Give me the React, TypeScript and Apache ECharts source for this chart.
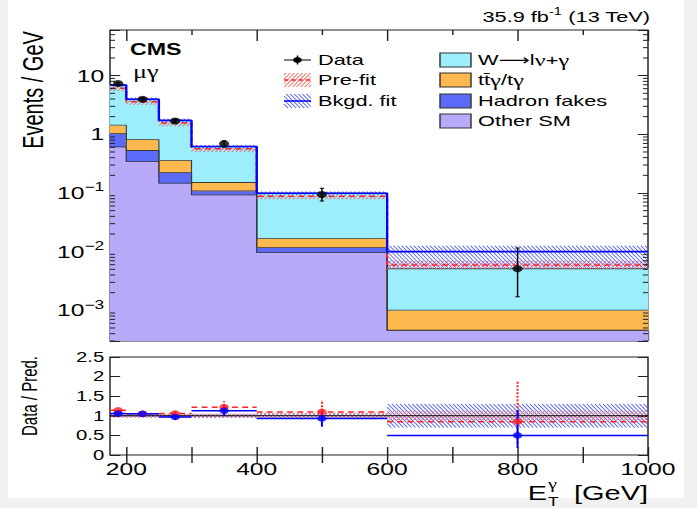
import React, { useEffect, useRef } from 'react';
import * as echarts from 'echarts';

// Chart is laid out in an "internal" frame and stretched horizontally via CSS
const W_INT = 481;
const SX = 697 / W_INT;
const X = (sx: number) => sx / SX;
const F = 'Liberation Sans, Arial, Helvetica, sans-serif';
const FG = 'Liberation Serif, Times New Roman, serif';

const X_MIN = 175;
const X_MAX = 1000;
const Y_MIN = 3e-4;
const Y_MAX = 60;

// ---------------- data ----------------
const binEdges = [175, 200, 250, 300, 400, 600, 1000];
const binCenters = [187.5, 225, 275, 350, 500, 800];

const otherSM = [0.61, 0.345, 0.147, 0.093, 0.0096, 0.00045];
const hadronFakes = [0.42, 0.185, 0.077, 0.016, 0.0021, 0.00001];
const ttGamma = [0.4, 0.28, 0.136, 0.042, 0.0052, 0.00055];
const wGamma = [5.45, 3.16, 1.37, 0.47, 0.082, 0.0041];

const dataY = [7.36, 3.97, 1.69, 0.69, 0.094, 0.0051];
const dataLo = [7.05, 3.75, 1.57, 0.61, 0.073, 0.0017];
const dataHi = [7.68, 4.2, 1.82, 0.78, 0.12, 0.0115];

const prefit = [6.1, 3.6, 1.56, 0.57, 0.088, 0.0059];
const prefitLo = [5.4, 3.15, 1.37, 0.5, 0.078, 0.0051];
const prefitHi = [6.4, 3.75, 1.62, 0.59, 0.092, 0.007];

const postfit = [6.9, 3.97, 1.73, 0.62, 0.099, 0.01];
const postfitLo = [6.45, 3.7, 1.61, 0.58, 0.092, 0.0053];
const postfitHi = [7.35, 4.25, 1.85, 0.66, 0.106, 0.0126];

// ratio panel
const preRatio = [1.14, 1.05, 1.06, 1.22, 1.1, 0.85];
const preRatioLo = [1.09, 1.02, 0.98, 1.08, 0.86, 0.3];
const preRatioHi = [1.19, 1.08, 1.14, 1.38, 1.4, 1.88];
const postRatio = [1.06, 1.05, 0.97, 1.13, 0.93, 0.5];
const postRatioLo = [1.02, 1.02, 0.89, 1.0, 0.72, 0.18];
const postRatioHi = [1.1, 1.08, 1.05, 1.26, 1.12, 1.15];
const preUncR = [0.05, 0.05, 0.05, 0.06, 0.08, 0.12];
const postUncR = [0.04, 0.04, 0.04, 0.05, 0.06, 0.3];

// ticks
const xMajorTicks = [200, 400, 600, 800, 1000];
const xMinorTicks = [300, 500, 700, 900];
const xRatioTicks = [200, 300, 400, 500, 600, 700, 800, 900, 1000];
const xLabels = [200, 400, 600, 800, 1000];
const logMinorTicks: number[] = [];
for (let e = -4; e <= 1; e++) {
  for (let m = 2; m <= 9; m++) {
    const v = m * Math.pow(10, e);
    if (v > Y_MIN && v < Y_MAX) logMinorTicks.push(v);
  }
}

// ---------------- styles ----------------
const C_W = '#9ceefc';
const C_TT = '#fdb94e';
const C_HAD = '#5b6bf7';
const C_OTHER = '#b9aaf9';
const BLUE = '#0000ff';
const RED = '#ff2222';
const HATCH_BLUE = '#5560f2';
const HATCH_RED = '#f06a6a';
const FRAME = '#222';
const OUTLINE = '#3a3a3a';

function hatch(ax0: number, ay0: number, ax1: number, ay1: number, spacing: number, k: number, dir: number, stroke: string, lw: number) {
  const x0 = Math.min(ax0, ax1), x1 = Math.max(ax0, ax1);
  const y0 = Math.min(ay0, ay1), y1 = Math.max(ay0, ay1);
  const out: any[] = [];
  const h = y1 - y0;
  if (h <= 0 || x1 - x0 <= 0) return out;
  const dx = h / k;
  for (let c = x0 - dx; c <= x1 + dx; c += spacing) {
    let tA, tB;
    if (dir === 1) { tA = (x0 - c) * k; tB = (x1 - c) * k; }
    else { tA = (c - x1) * k; tB = (c - x0) * k; }
    const t0 = Math.max(0, tA), t1 = Math.min(h, tB);
    if (t1 <= t0) continue;
    out.push({
      type: 'line', silent: true,
      shape: { x1: c + (dir * t0) / k, y1: y0 + t0, x2: c + (dir * t1) / k, y2: y0 + t1 },
      style: { stroke, lineWidth: lw },
    });
  }
  return out;
}

const stepPoints = (vals: number[]) => {
  const pts: number[][] = [];
  vals.forEach((v, i) => { pts.push([binEdges[i], v], [binEdges[i + 1], v]); });
  return pts;
};

const components = [otherSM, hadronFakes, ttGamma, wGamma];
const componentColors = [C_OTHER, C_HAD, C_TT, C_W];
const cumulative = components.map((_, k) =>
  binCenters.map((__, i) => components.slice(0, k + 1).reduce((s, arr) => s + arr[i], 0))
);

function xAx(gridIndex: number, position: string, ticks: number[], len: number, labels?: number[]) {
  return {
    type: 'value', gridIndex, position, min: X_MIN, max: X_MAX,
    axisLine: { show: false },
    axisTick: { show: true, inside: true, length: len, customValues: ticks, lineStyle: { color: FRAME, width: 1 } },
    axisLabel: labels
      ? { show: true, customValues: labels, fontSize: 17, fontFamily: F, color: '#000', margin: 5, formatter: (v: number) => String(v) }
      : { show: false },
    splitLine: { show: false },
  };
}

const logFormatter = (v: number) => {
  const l = Math.log10(v);
  const r = Math.round(l);
  if (Math.abs(l - r) > 1e-6) return '';
  if (r === 0) return '1';
  if (r === 1) return '10';
  return '10{sup|\u2212' + -r + '}';
};

const textEl = (x: number, y: number, text: string, extra: any = {}, rot = 0) => ({
  type: 'text', x, y, rotation: rot, silent: true,
  style: { text, fontSize: 15, fontFamily: F, fill: '#000', textAlign: 'left', textVerticalAlign: 'middle', ...extra },
});

function buildOption() {
  const graphics: any[] = [];
  const greekRich = {
    g: { fontSize: 17, fontFamily: FG, fill: '#000' },
    a: { fontSize: 15, fontFamily: 'DejaVu Sans, sans-serif', fill: '#000' },
  };
  // lumi label
  graphics.push(textEl(X(650), 17, '35.9 fb{sup|-1} (13 TeV)', {
    textAlign: 'right', lineHeight: 20,
    rich: { sup: { fontSize: 10, fontFamily: F, verticalAlign: 'top', lineHeight: 11, fill: '#000' } },
  }));
  graphics.push(textEl(X(130), 49, 'CMS', { fontSize: 16, fontWeight: 'bold' }));
  graphics.push(textEl(X(133), 72, '\u03bc\u03b3', { fontSize: 18, fontFamily: FG }));
  // axis titles
  graphics.push(textEl(X(33), 90, 'Events / GeV', { fontSize: 20, textAlign: 'center' }, Math.PI / 2));
  graphics.push(textEl(X(29), 396, 'Data / Pred.', { fontSize: 15, textAlign: 'center' }, Math.PI / 2));
  graphics.push(textEl(X(648), 493, '[GeV]', { fontSize: 20, textAlign: 'right' }));
  graphics.push(textEl(X(547), 493, 'E', { fontSize: 20, textAlign: 'right' }));
  graphics.push(textEl(X(548), 484, '\u03b3', { fontSize: 14, fontFamily: FG }));
  graphics.push(textEl(X(548), 502, 'T', { fontSize: 12 }));

  // legend column 1
  const lx0 = X(284), lx1 = X(311), lxc = X(297.5);
  graphics.push({ type: 'line', silent: true, shape: { x1: lx0, y1: 60, x2: lx1, y2: 60 }, style: { stroke: '#000', lineWidth: 1 } });
  graphics.push({ type: 'line', silent: true, shape: { x1: lxc, y1: 55.5, x2: lxc, y2: 64.5 }, style: { stroke: '#000', lineWidth: 1 } });
  graphics.push({ type: 'circle', silent: true, shape: { cx: lxc, cy: 60, r: 3 }, style: { fill: '#000' } });
  hatch(lx0, 73, lx1, 87, 2.8, SX, -1, HATCH_RED, 0.7).forEach((g) => graphics.push(g));
  graphics.push({ type: 'line', silent: true, shape: { x1: lx0, y1: 80, x2: lx1, y2: 80 }, style: { stroke: RED, lineWidth: 1.5, lineDash: [3, 2] } });
  hatch(lx0, 94, lx1, 108, 2.8, SX, 1, HATCH_BLUE, 0.7).forEach((g) => graphics.push(g));
  graphics.push({ type: 'line', silent: true, shape: { x1: lx0, y1: 101, x2: lx1, y2: 101 }, style: { stroke: BLUE, lineWidth: 1.5 } });
  const leftLabels = ['Data', 'Pre-fit', 'Bkgd. fit'];
  const leftY = [60, 80, 101];
  leftLabels.forEach((t, i) => graphics.push(textEl(X(318), leftY[i], t)));
  // legend column 2
  const rightLabels = ['W{a|\u27f6}l{g|\u03bd}+{g|\u03b3}', 'tt\u0304{g|\u03b3}/t{g|\u03b3}', 'Hadron fakes', 'Other SM'];
  const rightY = [60, 80, 101, 121];
  rightLabels.forEach((t, i) => {
    graphics.push({ type: 'rect', silent: true, shape: { x: X(440), y: rightY[i] - 7, width: X(471) - X(440), height: 14 }, style: { fill: componentColors[[3, 2, 1, 0][i]], stroke: '#333', lineWidth: 1 } });
    graphics.push(textEl(X(478), rightY[i], t, { rich: greekRich }));
  });

  const gridLeft = X(110);
  const gridWidth = X(648) - X(110);

  const outlineSeries = cumulative.map((cum, k) => ({
    type: 'line', name: 'outline' + k, xAxisIndex: 0, yAxisIndex: 0, z: 1.5, silent: true,
    data: stepPoints(cum), symbol: 'none',
    lineStyle: { color: OUTLINE, width: 0.8 },
  }));

  return {
    animation: false,
    backgroundColor: 'transparent',
    graphic: { elements: graphics },
    grid: [
      { left: gridLeft, top: 30, width: gridWidth, height: 311, show: true, borderColor: FRAME, borderWidth: 1, backgroundColor: 'transparent', outerBoundsMode: 'none', containLabel: false },
      { left: gridLeft, top: 357, width: gridWidth, height: 98, show: true, borderColor: FRAME, borderWidth: 1, backgroundColor: 'transparent', outerBoundsMode: 'none', containLabel: false },
    ],
    xAxis: [
      xAx(0, 'bottom', xMajorTicks, 11),
      xAx(0, 'bottom', xMinorTicks, 5),
      xAx(0, 'top', xMajorTicks, 11),
      xAx(0, 'top', xMinorTicks, 5),
      xAx(1, 'bottom', xRatioTicks, 8, xLabels),
      xAx(1, 'top', xRatioTicks, 8),
    ],
    yAxis: [
      {
        type: 'log', logBase: 10, gridIndex: 0, position: 'left', min: Y_MIN, max: Y_MAX,
        axisLine: { show: false },
        axisTick: { show: true, inside: true, length: 7, lineStyle: { color: FRAME, width: 1 } },
        axisLabel: {
          show: true, margin: 4, fontSize: 17, fontFamily: F, color: '#000', lineHeight: 24,
          formatter: logFormatter,
          rich: { sup: { fontSize: 12, fontFamily: F, color: '#000', verticalAlign: 'top', lineHeight: 12 } },
        },
        splitLine: { show: false },
      },
      {
        type: 'log', logBase: 10, gridIndex: 0, position: 'right', min: Y_MIN, max: Y_MAX,
        axisLine: { show: false },
        axisTick: { show: true, inside: true, length: 7, lineStyle: { color: FRAME, width: 1 } },
        axisLabel: { show: false }, splitLine: { show: false },
      },
      {
        type: 'value', gridIndex: 1, position: 'left', min: 0, max: 2.5, interval: 0.5,
        axisLine: { show: false },
        axisTick: { show: true, inside: true, length: 7, lineStyle: { color: FRAME, width: 1 } },
        axisLabel: { show: true, margin: 4, fontSize: 14, fontFamily: F, color: '#000' },
        splitLine: { show: false },
      },
      {
        type: 'value', gridIndex: 1, position: 'right', min: 0, max: 2.5, interval: 0.5,
        axisLine: { show: false },
        axisTick: { show: true, inside: true, length: 7, lineStyle: { color: FRAME, width: 1 } },
        axisLabel: { show: false }, splitLine: { show: false },
      },
    ],
    series: [
      // stacked histogram fills
      {
        type: 'custom', name: 'stack', xAxisIndex: 0, yAxisIndex: 0, z: 1, clip: true, silent: true,
        data: binCenters.map((c, i) => [binEdges[i], binEdges[i + 1], cumulative[3][i], i]),
        encode: { x: [0, 1], y: 2 },
        renderItem: (params: any, api: any) => {
          const i = api.value(3);
          const x0 = binEdges[i], x1 = binEdges[i + 1];
          const children: any[] = [];
          let lower = Y_MIN;
          cumulative.forEach((cum, k) => {
            const pTop = api.coord([x0, cum[i]]);
            const pBot = api.coord([x1, lower]);
            children.push({
              type: 'rect',
              shape: { x: pTop[0], y: pTop[1], width: pBot[0] - pTop[0], height: pBot[1] - pTop[1] },
              style: { fill: componentColors[k], stroke: componentColors[k], lineWidth: 0.8 },
            });
            lower = cum[i];
          });
          return { type: 'group', children };
        },
      },
      ...outlineSeries,
      // uncertainty bands
      {
        type: 'custom', name: 'bands', xAxisIndex: 0, yAxisIndex: 0, z: 2, clip: true, silent: true,
        data: binCenters.map((c, i) => [binEdges[i], binEdges[i + 1], postfitLo[i], postfitHi[i], i]),
        encode: { x: [0, 1], y: [2, 3] },
        renderItem: (params: any, api: any) => {
          const i = api.value(4);
          const x0 = binEdges[i], x1 = binEdges[i + 1];
          const a = api.coord([x0, postfitHi[i]]), b = api.coord([x1, postfitLo[i]]);
          const c = api.coord([x0, prefitHi[i]]), d = api.coord([x1, prefitLo[i]]);
          const children = [
            ...hatch(c[0], c[1], d[0], d[1], 2.8, SX, -1, HATCH_RED, 0.7),
            ...hatch(a[0], a[1], b[0], b[1], 2.8, SX, 1, HATCH_BLUE, 0.7),
          ];
          return { type: 'group', children };
        },
      },
      {
        type: 'line', name: 'Pre-fit', xAxisIndex: 0, yAxisIndex: 0, z: 3, silent: true,
        data: stepPoints(prefit), symbol: 'none',
        lineStyle: { color: RED, width: 1.5, type: [4, 3] },
      },
      {
        type: 'line', name: 'Bkgd. fit', xAxisIndex: 0, yAxisIndex: 0, z: 4, silent: true,
        data: stepPoints(postfit), symbol: 'none',
        lineStyle: { color: BLUE, width: 1.6 },
      },
      // data error bars
      {
        type: 'custom', name: 'dataErr', xAxisIndex: 0, yAxisIndex: 0, z: 5, clip: true, silent: true,
        data: binCenters.map((c, i) => [c, dataLo[i], dataHi[i]]),
        encode: { x: 0, y: [1, 2] },
        renderItem: (params: any, api: any) => {
          const top = api.coord([api.value(0), api.value(2)]);
          const bot = api.coord([api.value(0), api.value(1)]);
          const st = { stroke: '#000', lineWidth: 1 };
          return {
            type: 'group', children: [
              { type: 'line', shape: { x1: top[0], y1: top[1], x2: bot[0], y2: bot[1] }, style: st },
              { type: 'line', shape: { x1: top[0] - 1.5, y1: top[1], x2: top[0] + 1.5, y2: top[1] }, style: st },
              { type: 'line', shape: { x1: bot[0] - 1.5, y1: bot[1], x2: bot[0] + 1.5, y2: bot[1] }, style: st },
            ],
          };
        },
      },
      {
        type: 'scatter', name: 'Data', xAxisIndex: 0, yAxisIndex: 0, z: 6, silent: true,
        data: binCenters.map((c, i) => [c, dataY[i]]),
        symbol: 'circle', symbolSize: 7, itemStyle: { color: '#000' },
      },
      // log minor ticks
      {
        type: 'custom', name: 'minorTicks', xAxisIndex: 0, yAxisIndex: 0, z: 7, clip: false, silent: true,
        data: logMinorTicks.map((v) => [X_MIN, v]),
        encode: { x: 0, y: 1 },
        renderItem: (params: any, api: any) => {
          const p = api.coord([X_MIN, api.value(1)]);
          const cs = params.coordSys;
          const st = { stroke: FRAME, lineWidth: 1 };
          return {
            type: 'group', children: [
              { type: 'line', shape: { x1: cs.x, y1: p[1], x2: cs.x + 3.5, y2: p[1] }, style: st },
              { type: 'line', shape: { x1: cs.x + cs.width - 3.5, y1: p[1], x2: cs.x + cs.width, y2: p[1] }, style: st },
            ],
          };
        },
      },
      // ratio bands
      {
        type: 'custom', name: 'ratioBands', xAxisIndex: 4, yAxisIndex: 2, z: 1, clip: true, silent: true,
        data: binCenters.map((c, i) => [binEdges[i], binEdges[i + 1], 1 - postUncR[i], 1 + postUncR[i], i]),
        encode: { x: [0, 1], y: [2, 3] },
        renderItem: (params: any, api: any) => {
          const i = api.value(4);
          const x0 = binEdges[i], x1 = binEdges[i + 1];
          const a = api.coord([x0, 1 + postUncR[i]]), b = api.coord([x1, 1 - postUncR[i]]);
          const c = api.coord([x0, 1 + preUncR[i]]), d = api.coord([x1, 1 - preUncR[i]]);
          return {
            type: 'group', children: [
              ...hatch(a[0], a[1], b[0], b[1], 2.8, SX, 1, HATCH_BLUE, 0.7),
              ...hatch(c[0], c[1], d[0], d[1], 2.8, SX, -1, HATCH_RED, 0.7),
            ],
          };
        },
      },
      {
        type: 'line', name: 'unity', xAxisIndex: 4, yAxisIndex: 2, z: 2, silent: true,
        data: [[X_MIN, 1], [X_MAX, 1]], symbol: 'none',
        lineStyle: { color: '#000', width: 1 },
      },
      // ratio steps and error bars
      {
        type: 'custom', name: 'ratioSteps', xAxisIndex: 4, yAxisIndex: 2, z: 3, clip: true, silent: true,
        data: binCenters.map((c, i) => [c, postRatio[i], i]),
        encode: { x: 0, y: 1 },
        renderItem: (params: any, api: any) => {
          const i = api.value(2);
          const x0 = binEdges[i], x1 = binEdges[i + 1], xc = binCenters[i];
          const pr0 = api.coord([x0, preRatio[i]]), pr1 = api.coord([x1, preRatio[i]]);
          const po0 = api.coord([x0, postRatio[i]]), po1 = api.coord([x1, postRatio[i]]);
          const ep0 = api.coord([xc, preRatioLo[i]]), ep1 = api.coord([xc, preRatioHi[i]]);
          const eb0 = api.coord([xc, postRatioLo[i]]), eb1 = api.coord([xc, postRatioHi[i]]);
          return {
            type: 'group', children: [
              { type: 'line', shape: { x1: pr0[0], y1: pr0[1], x2: pr1[0], y2: pr1[1] }, style: { stroke: RED, lineWidth: 1.5, lineDash: [4, 3] } },
              { type: 'line', shape: { x1: ep0[0], y1: ep0[1], x2: ep1[0], y2: ep1[1] }, style: { stroke: RED, lineWidth: 1.4, lineDash: [2, 1.5] } },
              { type: 'line', shape: { x1: po0[0], y1: po0[1], x2: po1[0], y2: po1[1] }, style: { stroke: BLUE, lineWidth: 1.5 } },
              { type: 'line', shape: { x1: eb0[0], y1: eb0[1], x2: eb1[0], y2: eb1[1] }, style: { stroke: BLUE, lineWidth: 1.4 } },
            ],
          };
        },
      },
      {
        type: 'scatter', name: 'preRatio', xAxisIndex: 4, yAxisIndex: 2, z: 4, silent: true,
        data: binCenters.map((c, i) => [c, preRatio[i]]),
        symbol: 'circle', symbolSize: 6.5, itemStyle: { color: RED },
      },
      {
        type: 'scatter', name: 'postRatio', xAxisIndex: 4, yAxisIndex: 2, z: 5, silent: true,
        data: binCenters.map((c, i) => [c, postRatio[i]]),
        symbol: 'circle', symbolSize: 6.5, itemStyle: { color: BLUE },
      },
    ],
  };
}

export default function App() {
  const ref = useRef<HTMLDivElement>(null);
  useEffect(() => {
    if (!ref.current) return;
    const chart = echarts.init(ref.current, null, { renderer: 'svg' });
    chart.setOption(buildOption() as any);
    return () => chart.dispose();
  }, []);
  return (
    <div style={{ position: 'fixed', left: 0, top: 0, width: 697, height: 508, background: '#f1f1f1', overflow: 'hidden' }}>
      <div style={{ position: 'absolute', left: 8, top: 0, width: 676, height: 498, background: '#ffffff' }} />
      <div
        ref={ref}
        style={{ position: 'absolute', left: 0, top: 0, width: W_INT, height: 508, transform: `scaleX(${SX})`, transformOrigin: '0 0' }}
      />
    </div>
  );
}
